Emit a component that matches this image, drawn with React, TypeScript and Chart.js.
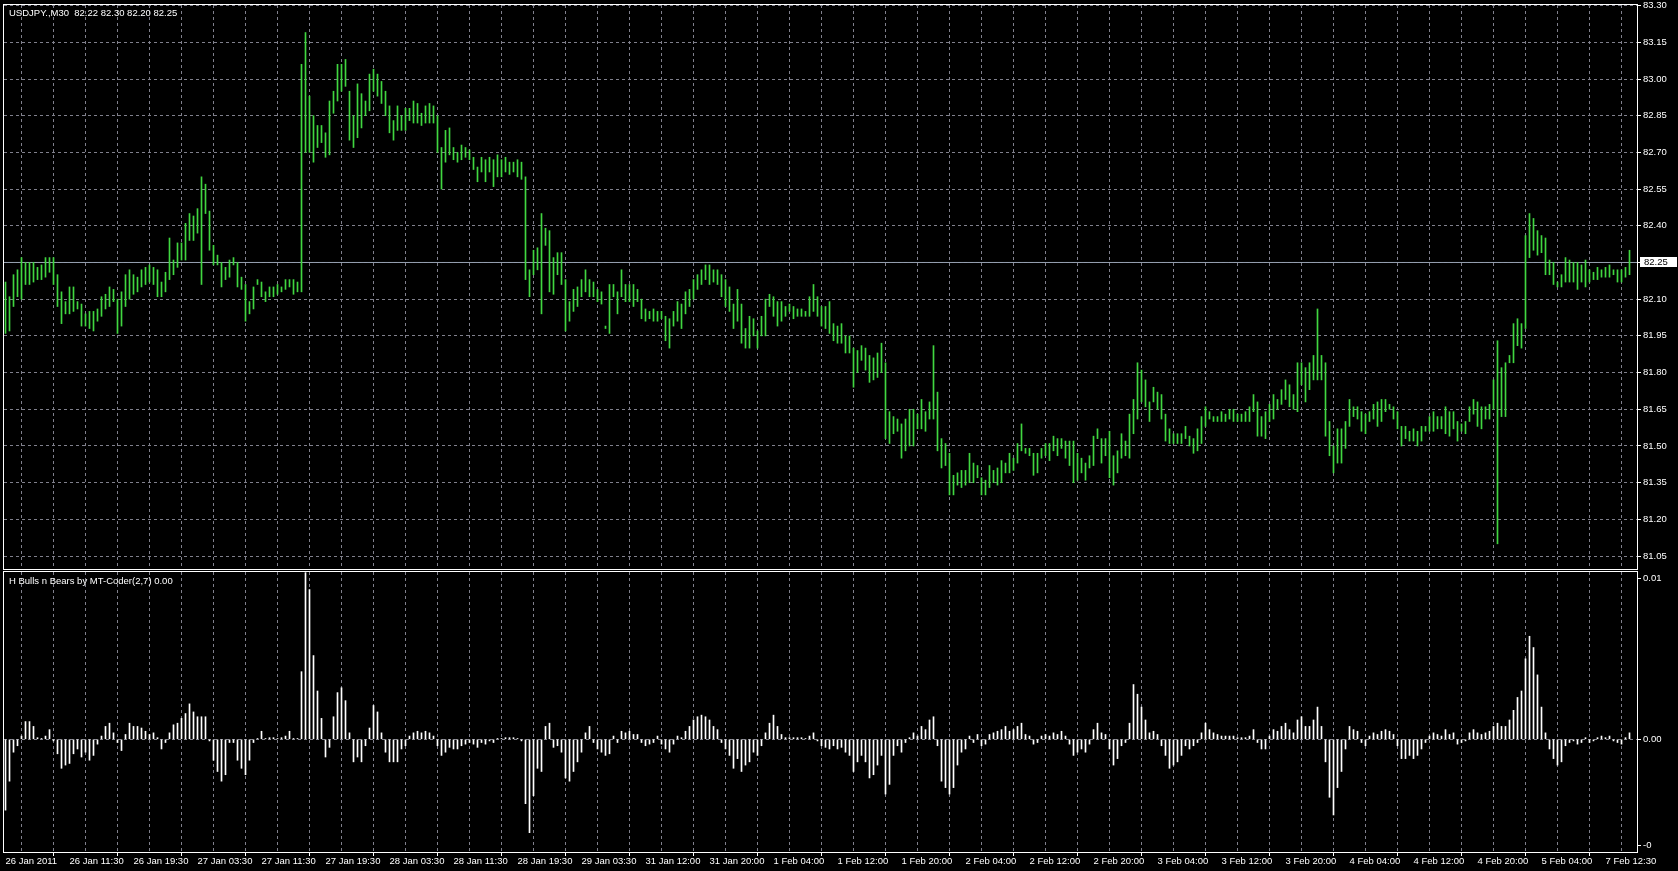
import React, { useEffect, useRef } from 'react';
import { Chart, registerables } from 'chart.js';
Chart.register(...registerables);

// ---- data ----
const symbolTitle = 'USDJPY.,M30  82.22 82.30 82.20 82.25';
const indicatorTitle = 'H Bulls n Bears by MT-Coder(2,7) 0.00';
const currentPrice = 82.25;

const xLabels = [
  '26 Jan 2011', '26 Jan 11:30', '26 Jan 19:30', '27 Jan 03:30', '27 Jan 11:30', '27 Jan 19:30',
  '28 Jan 03:30', '28 Jan 11:30', '28 Jan 19:30', '29 Jan 03:30', '31 Jan 12:00', '31 Jan 20:00',
  '1 Feb 04:00', '1 Feb 12:00', '1 Feb 20:00', '2 Feb 04:00', '2 Feb 12:00', '2 Feb 20:00',
  '3 Feb 04:00', '3 Feb 12:00', '3 Feb 20:00', '4 Feb 04:00', '4 Feb 12:00', '4 Feb 20:00',
  '5 Feb 04:00', '7 Feb 12:30',
];

const priceTicks = [83.30, 83.15, 83.00, 82.85, 82.70, 82.55, 82.40, 82.25, 82.10, 81.95, 81.80, 81.65, 81.50, 81.35, 81.20, 81.05];
const indicatorTicks = [0.01, 0, -0.0066];
const indicatorTickLabels = ['0.01', '0.00', '-0'];

const highs = [
  82.17, 82.11, 82.20, 82.22, 82.27, 82.25, 82.25, 82.25, 82.23, 82.24,
  82.27, 82.27, 82.27, 82.20, 82.13, 82.09, 82.15, 82.15, 82.09, 82.08,
  82.04, 82.05, 82.05, 82.06, 82.11, 82.12, 82.15, 82.14, 82.10, 82.13,
  82.20, 82.22, 82.20, 82.19, 82.22, 82.23, 82.24, 82.23, 82.22, 82.17,
  82.21, 82.35, 82.26, 82.33, 82.33, 82.41, 82.45, 82.44, 82.47, 82.60,
  82.57, 82.46, 82.32, 82.28, 82.25, 82.23, 82.26, 82.27, 82.25, 82.19,
  82.16, 82.09, 82.15, 82.18, 82.17, 82.13, 82.15, 82.15, 82.16, 82.15,
  82.18, 82.18, 82.18, 82.17, 83.06, 83.19, 82.93, 82.85, 82.81, 82.81,
  82.78, 82.91, 82.95, 83.06, 83.06, 83.08, 82.95, 82.85, 82.98, 82.94,
  82.91, 83.02, 83.04, 83.02, 82.99, 82.95, 82.89, 82.83, 82.89, 82.85,
  82.88, 82.88, 82.91, 82.90, 82.86, 82.89, 82.90, 82.89, 82.85, 82.72,
  82.79, 82.80, 82.72, 82.70, 82.73, 82.72, 82.71, 82.68, 82.64, 82.68,
  82.67, 82.68, 82.67, 82.69, 82.67, 82.68, 82.66, 82.66, 82.67, 82.66,
  82.60, 82.22, 82.30, 82.31, 82.45, 82.39, 82.38, 82.27, 82.29, 82.29,
  82.18, 82.09, 82.14, 82.15, 82.18, 82.22, 82.18, 82.17, 82.14, 82.13,
  81.99, 82.16, 82.16, 82.13, 82.22, 82.16, 82.16, 82.16, 82.14, 82.10,
  82.06, 82.05, 82.06, 82.05, 82.05, 82.03, 82.02, 82.05, 82.09, 82.08,
  82.13, 82.14, 82.18, 82.20, 82.22, 82.24, 82.24, 82.22, 82.22, 82.20,
  82.18, 82.15, 82.08, 82.14, 82.08, 81.98, 82.03, 82.02, 81.97, 82.03,
  82.10, 82.12, 82.11, 82.09, 82.09, 82.07, 82.08, 82.07, 82.06, 82.06,
  82.05, 82.11, 82.16, 82.11, 82.07, 82.07, 82.09, 82.00, 81.99, 82.00,
  81.95, 81.95, 81.90, 81.89, 81.91, 81.90, 81.87, 81.86, 81.88, 81.92,
  81.84, 81.64, 81.62, 81.61, 81.59, 81.61, 81.65, 81.65, 81.63, 81.69,
  81.64, 81.68, 81.91, 81.72, 81.53, 81.51, 81.47, 81.38, 81.39, 81.40,
  81.40, 81.47, 81.43, 81.42, 81.37, 81.36, 81.42, 81.40, 81.41, 81.44,
  81.43, 81.47, 81.45, 81.51, 81.59, 81.49, 81.49, 81.47, 81.47, 81.49,
  81.51, 81.51, 81.54, 81.53, 81.53, 81.52, 81.52, 81.52, 81.47, 81.45,
  81.43, 81.46, 81.54, 81.57, 81.53, 81.53, 81.56, 81.46, 81.48, 81.55,
  81.52, 81.63, 81.69, 81.84, 81.81, 81.77, 81.68, 81.74, 81.72, 81.71,
  81.63, 81.57, 81.55, 81.55, 81.55, 81.58, 81.54, 81.53, 81.57, 81.62,
  81.66, 81.64, 81.62, 81.62, 81.64, 81.63, 81.65, 81.65, 81.63, 81.63,
  81.64, 81.66, 81.71, 81.68, 81.62, 81.64, 81.67, 81.71, 81.69, 81.73,
  81.77, 81.75, 81.71, 81.84, 81.84, 81.82, 81.84, 81.87, 82.06, 81.87,
  81.84, 81.60, 81.50, 81.57, 81.57, 81.60, 81.69, 81.66, 81.66, 81.64,
  81.63, 81.64, 81.67, 81.68, 81.69, 81.69, 81.67, 81.66, 81.64, 81.58,
  81.58, 81.56, 81.57, 81.56, 81.58, 81.58, 81.62, 81.64, 81.62, 81.62,
  81.66, 81.64, 81.64, 81.60, 81.59, 81.60, 81.66, 81.69, 81.68, 81.66,
  81.66, 81.67, 81.77, 81.93, 81.82, 81.84, 81.87, 82.00, 82.02, 82.00,
  82.36, 82.45, 82.43, 82.38, 82.36, 82.35, 82.26, 82.25, 82.17, 82.20,
  82.27, 82.26, 82.25, 82.25, 82.24, 82.26, 82.22, 82.21, 82.23, 82.22,
  82.23, 82.24, 82.22, 82.22, 82.22, 82.23, 82.30,
];

const lows = [
  81.96, 81.97, 82.07, 82.11, 82.10, 82.16, 82.16, 82.17, 82.18, 82.18,
  82.19, 82.21, 82.16, 82.07, 82.00, 82.04, 82.04, 82.05, 82.06, 81.99,
  81.99, 81.98, 81.97, 82.01, 82.03, 82.06, 82.07, 82.09, 81.96, 81.99,
  82.07, 82.10, 82.12, 82.13, 82.15, 82.16, 82.17, 82.16, 82.11, 82.11,
  82.13, 82.18, 82.20, 82.23, 82.26, 82.26, 82.34, 82.34, 82.37, 82.16,
  82.45, 82.30, 82.24, 82.24, 82.15, 82.18, 82.19, 82.24, 82.15, 82.14,
  82.01, 82.04, 82.06, 82.16, 82.11, 82.09, 82.11, 82.11, 82.12, 82.13,
  82.14, 82.15, 82.12, 82.13, 82.13, 82.70, 82.70, 82.66, 82.72, 82.74,
  82.68, 82.69, 82.86, 82.91, 82.95, 82.97, 82.75, 82.72, 82.76, 82.80,
  82.85, 82.87, 82.95, 82.93, 82.90, 82.85, 82.78, 82.75, 82.79, 82.79,
  82.79, 82.83, 82.82, 82.82, 82.81, 82.82, 82.82, 82.82, 82.70, 82.55,
  82.66, 82.69, 82.67, 82.66, 82.67, 82.68, 82.67, 82.63, 82.58, 82.62,
  82.58, 82.62, 82.56, 82.60, 82.60, 82.62, 82.61, 82.62, 82.60, 82.59,
  82.18, 82.11, 82.20, 82.22, 82.04, 82.32, 82.13, 82.12, 82.20, 82.16,
  81.97, 82.01, 82.05, 82.07, 82.11, 82.13, 82.11, 82.11, 82.09, 82.08,
  81.98, 81.96, 82.11, 82.04, 82.11, 82.09, 82.09, 82.07, 82.09, 82.02,
  82.01, 82.02, 82.01, 82.01, 82.02, 81.93, 81.90, 81.99, 82.01, 81.98,
  82.04, 82.07, 82.10, 82.14, 82.16, 82.18, 82.16, 82.17, 82.16, 82.11,
  82.07, 82.05, 81.98, 82.01, 81.92, 81.90, 81.90, 81.95, 81.90, 81.95,
  81.95, 82.07, 82.03, 81.99, 82.01, 82.03, 82.05, 82.02, 82.03, 82.03,
  82.03, 82.03, 82.05, 82.03, 81.99, 81.98, 81.96, 81.93, 81.92, 81.92,
  81.88, 81.88, 81.74, 81.80, 81.85, 81.81, 81.76, 81.77, 81.78, 81.80,
  81.53, 81.51, 81.55, 81.56, 81.45, 81.48, 81.50, 81.50, 81.57, 81.57,
  81.56, 81.61, 81.61, 81.48, 81.41, 81.42, 81.30, 81.30, 81.34, 81.33,
  81.34, 81.35, 81.35, 81.37, 81.30, 81.30, 81.33, 81.35, 81.34, 81.35,
  81.39, 81.39, 81.40, 81.43, 81.48, 81.47, 81.46, 81.38, 81.39, 81.45,
  81.46, 81.44, 81.48, 81.46, 81.49, 81.45, 81.42, 81.35, 81.36, 81.39,
  81.36, 81.41, 81.42, 81.53, 81.43, 81.46, 81.37, 81.34, 81.39, 81.45,
  81.46, 81.45, 81.55, 81.61, 81.68, 81.66, 81.60, 81.68, 81.65, 81.61,
  81.52, 81.51, 81.51, 81.51, 81.51, 81.53, 81.50, 81.47, 81.48, 81.51,
  81.58, 81.61, 81.60, 81.60, 81.60, 81.60, 81.61, 81.60, 81.60, 81.60,
  81.60, 81.60, 81.64, 81.54, 81.54, 81.53, 81.60, 81.61, 81.65, 81.67,
  81.69, 81.66, 81.65, 81.64, 81.75, 81.68, 81.73, 81.77, 81.77, 81.77,
  81.54, 81.46, 81.39, 81.43, 81.43, 81.49, 81.58, 81.62, 81.61, 81.56,
  81.55, 81.60, 81.61, 81.58, 81.60, 81.64, 81.65, 81.61, 81.57, 81.50,
  81.53, 81.52, 81.52, 81.50, 81.52, 81.56, 81.56, 81.56, 81.57, 81.57,
  81.55, 81.54, 81.57, 81.52, 81.56, 81.55, 81.60, 81.63, 81.58, 81.57,
  81.61, 81.61, 81.65, 81.10, 81.62, 81.62, 81.84, 81.84, 81.91, 81.90,
  81.98, 82.27, 82.30, 82.28, 82.29, 82.20, 82.20, 82.16, 82.15, 82.15,
  82.17, 82.17, 82.17, 82.14, 82.17, 82.15, 82.17, 82.18, 82.18, 82.19,
  82.19, 82.19, 82.20, 82.17, 82.17, 82.19, 82.20,
];

// indicator values in units of 0.0001
const bullsBearsPts = [
  -44, -26, -8, -4, 2, 11, 11, 8, 1, 0.5,
  2, 6, -1, -9, -18, -16, -15, -9, -6, -11,
  -8, -13, -10, -3, 2, 8, 10, 4, -2, -7,
  3, 10, 8, 8, 7, 5, 3, 4, 1, -6,
  -2, 4, 9, 10, 13, 16, 22, 17, 14, 14,
  14, -1, -13, -20, -26, -22, -2, -2, -13, -18,
  -22, -13, -2, 0.5, 5, 0.5, 1, 1, 0.5, 1,
  2, 5, 0.5, 0.5, 42, 103.5, 93, 52, 30, 13,
  -11, -5, 14, 29, 32, 24, 4, -14, -11, -14,
  -4, 7, 21, 17, 4, -8, -14, -14, -14, -6,
  -4, 2, 4, 5, 4, 5, 4, 2, -4, -10,
  -8, -5, -6, -6, -4, -3, -2, -3, -5, -2,
  -3, -1, -2, 0.5, 0.5, 1, 1, 1, 0.5, -1,
  -40, -58, -35, -18, -20, 8, 10, -5, -4, -8,
  -24, -26, -20, -14, -8, 4, 8, -2, -6, -8,
  -10, -9, 2, -2, 5, 4, 5, 3, 3, -2,
  -4, -3, -2, 2, -3, -6, -8, -3, 2, 1,
  5, 8, 12, 14, 15, 14, 12, 8, 6, -2,
  -6, -10, -18, -12, -20, -16, -14, -8, -10, -4,
  4, 10, 15, 8, 3, 1, 1, 1, 1, 1,
  0.5, 2, 4, -1, -4, -5, -6, -4, -6, -5,
  -8, -10, -20, -14, -10, -14, -24, -22, -16, -10,
  -34, -28, -10, -4, -8, -2, 1, 4, 2, 8,
  6, 12, 14, -4, -26, -30, -34, -30, -16, -8,
  -6, 2, -2, 3, -4, -3, 3, 4, 5, 6,
  8, 5, 6, 8, 10, 3, 2, -3, -2, 2,
  3, 2, 4, 3, 5, 2, -3, -10, -8, -6,
  -8, -3, 6, 10, 4, 3, -6, -16, -12, -4,
  -2, 10, 34, 28, 20, 12, 4, 5, 3, -4,
  -10, -18, -16, -14, -10, -4, -6, -4, -2, 4,
  10, 6, 4, 3, 2, 2, 2, 2, 1, 1,
  1, 2, 6, -2, -6, -6, 2, 6, 5, 8,
  10, 6, 4, 12, 14, 8, 8, 12, 20, 8,
  -14, -36, -47, -30, -20, -6, 8, 6, 5, -2,
  -4, 2, 4, 3, 5, 6, 5, 3, -4, -12,
  -12, -10, -12, -10, -6, -2, 2, 4, 3, 2,
  6, 3, 4, -3, -2, -1, 4, 6, 4, 3,
  4, 5, 8, 10, 8, 8, 12, 18, 26, 30,
  50, 64, 57, 40, 20, 4, -6, -12, -16, -14,
  -4, -2, -1, -3, -2, 1, -2, -1, 1, 2,
  1, 2, -1, -2, -3, 1, 4,
];

// ---- styling ----
const FONT = 'Liberation Sans';
const FONT_SIZE = 9.5;
const GRID = 'rgb(128,128,140)';
const BAR_GREEN = 'rgb(64,214,64)';
const PRICE_LINE = 'rgb(150,160,176)';
const X_MIN = -0.375;
const X_MAX = 407.875;

const framePlugin = {
  id: 'frame',
  afterDraw(chart: any) {
    const { ctx, chartArea: a } = chart;
    ctx.save();
    ctx.strokeStyle = '#ffffff';
    ctx.lineWidth = 1;
    ctx.strokeRect(a.left - 0.5, a.top - 0.5, a.right - a.left + 1, a.bottom - a.top + 1);
    ctx.restore();
  },
};

function titlePlugin(text: string, y: number) {
  return {
    id: 'title_' + String(y).replace('.', '_'),
    afterDraw(chart: any) {
      const { ctx } = chart;
      ctx.save();
      ctx.fillStyle = '#ffffff';
      ctx.font = `${FONT_SIZE}px "${FONT}"`;
      ctx.textBaseline = 'middle';
      ctx.textAlign = 'left';
      ctx.fillText(text, 9, y);
      ctx.restore();
    },
  };
}

const priceBoxPlugin = {
  id: 'priceBox',
  afterDraw(chart: any) {
    const { ctx } = chart;
    const yScale = chart.scales.y;
    const y = Math.round(yScale.getPixelForValue(currentPrice));
    const x0 = chart.chartArea.right + 3;
    ctx.save();
    ctx.fillStyle = '#ffffff';
    ctx.fillRect(x0, y - 5, 1677 - x0, 10);
    ctx.fillStyle = '#000000';
    ctx.font = `${FONT_SIZE}px "${FONT}"`;
    ctx.textBaseline = 'middle';
    ctx.textAlign = 'left';
    ctx.fillText(currentPrice.toFixed(2), chart.chartArea.right + 7, y + 0.5);
    ctx.restore();
  },
};

function gridTicks(scale: any) {
  const t: any[] = [];
  for (let v = 0; v <= X_MAX; v += 8) t.push({ value: v });
  scale.ticks = t;
}

function noPad(s: any) {
  s.paddingTop = 0;
  s.paddingBottom = 0;
  s.paddingLeft = 0;
  s.paddingRight = 0;
}

export default function App() {
  const mainRef = useRef<HTMLCanvasElement>(null);
  const indRef = useRef<HTMLCanvasElement>(null);

  useEffect(() => {
    document.body.style.margin = '0';
    document.body.style.background = '#000';
    const barData = highs.map((h, i) => ({ x: i, y: [lows[i], h] }));
    const main = new Chart(mainRef.current as HTMLCanvasElement, {
      type: 'bar',
      data: {
        datasets: [
          {
            type: 'line',
            data: [{ x: X_MIN, y: currentPrice }, { x: X_MAX, y: currentPrice }],
            borderColor: PRICE_LINE,
            borderWidth: 1,
            pointRadius: 0,
            order: 2,
          } as any,
          {
            type: 'bar',
            data: barData as any,
            backgroundColor: BAR_GREEN,
            barThickness: 1,
            order: 1,
          },
        ],
      },
      options: {
        animation: false,
        responsive: false,
        maintainAspectRatio: false,
        layout: { padding: { left: 4, top: 5, right: 0, bottom: 2 } },
        plugins: { legend: { display: false }, tooltip: { enabled: false } },
        scales: {
          x: {
            type: 'linear',
            min: X_MIN,
            max: X_MAX,
            offset: false,
            afterBuildTicks: gridTicks,
            afterFit: (s: any) => { s.height = 0; noPad(s); },
            ticks: { display: false },
            grid: { color: GRID, drawTicks: false, lineWidth: 1 },
            border: { display: false, dash: [3, 3] },
          },
          y: {
            position: 'right',
            min: 80.997,
            max: 83.3025,
            afterBuildTicks: (s: any) => { s.ticks = priceTicks.map((v) => ({ value: v })); },
            afterFit: (s: any) => { s.width = 41; noPad(s); },
            ticks: {
              color: '#ffffff',
              font: { family: FONT, size: FONT_SIZE },
              padding: 2,
              callback: (v: any) => Number(v).toFixed(2),
            },
            grid: { color: GRID, tickColor: '#ffffff', tickLength: 4, lineWidth: 1 },
            border: { display: true, color: '#ffffff', dash: [3, 3] },
          },
        },
      },
      plugins: [framePlugin, titlePlugin(symbolTitle, 13), priceBoxPlugin],
    });

    const ind = new Chart(indRef.current as HTMLCanvasElement, {
      type: 'bar',
      data: {
        datasets: [
          {
            data: bullsBearsPts.map((v, i) => ({ x: i, y: v / 10000 })) as any,
            backgroundColor: '#ffffff',
            barThickness: 1,
          },
        ],
      },
      options: {
        animation: false,
        responsive: false,
        maintainAspectRatio: false,
        layout: { padding: { left: 4, top: 1, right: 0, bottom: 0 } },
        plugins: { legend: { display: false }, tooltip: { enabled: false } },
        scales: {
          x: {
            type: 'linear',
            min: X_MIN,
            max: X_MAX,
            offset: false,
            afterBuildTicks: gridTicks,
            afterFit: (s: any) => { s.height = 19; noPad(s); },
            ticks: {
              color: '#ffffff',
              font: { family: FONT, size: FONT_SIZE },
              autoSkip: false,
              maxRotation: 0,
              minRotation: 0,
              align: 'start',
              padding: 0,
              callback: (v: any) => (v % 16 === 0 ? xLabels[v / 16] || '' : ''),
            },
            grid: {
              color: GRID,
              lineWidth: 1,
              tickLength: 4,
              tickColor: (c: any) => (c.tick && c.tick.value % 16 === 0 ? '#ffffff' : 'rgba(0,0,0,0)'),
            },
            border: { display: true, color: '#ffffff', dash: [3, 3] },
          },
          y: {
            position: 'right',
            min: -0.0070,
            max: 0.010391,
            afterBuildTicks: (s: any) => { s.ticks = indicatorTicks.map((v) => ({ value: v })); },
            afterFit: (s: any) => { s.width = 41; noPad(s); },
            ticks: {
              color: '#ffffff',
              font: { family: FONT, size: FONT_SIZE },
              padding: 2,
              callback: (v: any, i: number) => indicatorTickLabels[i],
            },
            grid: {
              color: (c: any) => (c.tick && c.tick.value === 0 ? GRID : 'rgba(0,0,0,0)'),
              tickColor: '#ffffff',
              tickLength: 4,
              lineWidth: 1,
            },
            border: { display: true, color: '#ffffff', dash: [3, 3] },
          },
        },
      },
      plugins: [framePlugin, titlePlugin(indicatorTitle, 10.7)],
    });

    return () => {
      main.destroy();
      ind.destroy();
    };
  }, []);

  return (
    <div style={{ position: 'relative', width: 1678, height: 871, background: '#000', overflow: 'hidden' }}>
      <canvas ref={mainRef} width={1678} height={571} style={{ position: 'absolute', left: 0, top: 0 }} />
      <canvas ref={indRef} width={1678} height={300} style={{ position: 'absolute', left: 0, top: 571 }} />
    </div>
  );
}
